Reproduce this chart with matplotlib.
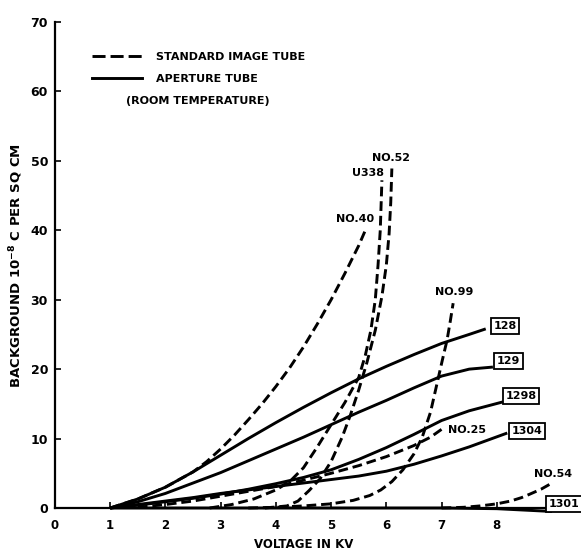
import matplotlib
matplotlib.use("Agg")
import matplotlib.pyplot as plt
from matplotlib.lines import Line2D

plt.rcParams['font.family'] = ['DejaVu Sans']
plt.rcParams['font.weight'] = 'bold'
plt.rcParams['mathtext.default'] = 'bf'
plt.rcParams['lines.scale_dashes'] = False

# ---- data (voltage in kV, background in 1e-8 C per sq cm) ----
x_128 = [1.0, 1.5, 2.0, 2.5, 3.0, 3.5, 4.0, 4.5, 5.0, 5.5, 6.0, 6.5, 7.0, 7.5, 7.8]
y_128 = [0, 1.3, 3.0, 5.2, 7.6, 10.0, 12.3, 14.5, 16.6, 18.6, 20.4, 22.1, 23.7, 25.0, 25.8]

x_129 = [1.0, 1.5, 2.0, 2.5, 3.0, 3.5, 4.0, 4.5, 5.0, 5.5, 6.0, 6.5, 7.0, 7.5, 7.93]
y_129 = [0, 0.9, 2.1, 3.6, 5.1, 6.8, 8.5, 10.2, 12.0, 13.8, 15.5, 17.3, 19.0, 20.0, 20.3]

x_1298 = [1.0, 1.5, 2.0, 2.5, 3.0, 3.5, 4.0, 4.5, 5.0, 5.5, 6.0, 6.5, 7.0, 7.5, 8.12]
y_1298 = [0, 0.4, 0.9, 1.4, 2.0, 2.7, 3.5, 4.4, 5.5, 7.0, 8.7, 10.6, 12.6, 14.0, 15.3]

x_1304 = [1.0, 1.5, 2.0, 2.5, 3.0, 3.5, 4.0, 4.5, 5.0, 5.5, 6.0, 6.5, 7.0, 7.5, 8.19]
y_1304 = [0, 0.5, 1.0, 1.5, 2.1, 2.6, 3.1, 3.6, 4.1, 4.6, 5.3, 6.3, 7.5, 8.8, 10.8]

x_1301 = [1.0, 3.0, 5.0, 7.0, 8.0, 8.5, 9.0]
y_1301 = [0, 0, 0, 0, -0.1, -0.3, -0.5]

x_no40 = [1.0, 1.5, 2.0, 2.25, 2.5, 2.75, 3.0, 3.25, 3.5, 3.75, 4.0, 4.25, 4.5,
          4.75, 5.0, 5.25, 5.5, 5.62]
y_no40 = [0, 1.3, 3.0, 4.1, 5.2, 6.7, 8.5, 10.5, 12.7, 15.0, 17.5, 20.2, 23.2,
          26.5, 30.0, 33.8, 37.8, 40.0]

x_u338 = [2.8, 3.2, 3.6, 4.0, 4.25, 4.5, 4.75, 5.0, 5.25, 5.5, 5.62, 5.72, 5.8,
          5.85, 5.89, 5.92]
y_u338 = [0, 0.5, 1.3, 2.6, 3.8, 5.8, 8.8, 12.0, 15.2, 18.8, 22.0, 25.6, 30.0,
          35.0, 40.0, 47.2]

x_no52 = [3.8, 4.2, 4.4, 4.6, 4.8, 5.0, 5.2, 5.35, 5.5, 5.65, 5.8, 5.92, 6.0,
          6.05, 6.08, 6.1]
y_no52 = [0, 0.3, 1.0, 2.5, 4.2, 6.7, 10.2, 13.4, 17.0, 21.0, 25.6, 30.5, 35.0,
          39.5, 44.0, 48.9]

x_no99 = [3.5, 4.0, 4.5, 5.0, 5.4, 5.7, 5.9, 6.1, 6.3, 6.5, 6.65, 6.8, 6.92,
          7.02, 7.1, 7.16, 7.21]
y_no99 = [0, 0.1, 0.3, 0.6, 1.1, 1.8, 2.6, 3.8, 5.5, 7.8, 10.2, 13.8, 18.0,
          21.5, 24.2, 27.0, 29.5]

x_no25 = [1.5, 2.0, 2.5, 3.0, 3.5, 4.0, 4.5, 5.0, 5.5, 6.0, 6.5, 6.8, 7.03]
y_no25 = [0.1, 0.5, 1.0, 1.7, 2.4, 3.1, 4.0, 5.0, 6.1, 7.4, 9.0, 10.2, 11.5]

x_no54 = [7.0, 7.4, 7.7, 8.0, 8.25, 8.45, 8.6, 8.8, 9.0]
y_no54 = [0, 0.1, 0.3, 0.6, 1.0, 1.5, 2.0, 2.7, 3.6]

x_ticks = [0, 1, 2, 3, 4, 5, 6, 7, 8]
y_ticks = [0, 10, 20, 30, 40, 50, 60, 70]

legend_labels = ["STANDARD IMAGE TUBE", "APERTURE TUBE", "(ROOM TEMPERATURE)"]

# ---- figure ----
fig = plt.figure(figsize=(5.81, 5.5), dpi=100)
ax = fig.add_axes([55 / 581, 42 / 550, 497 / 581, 486 / 550])
ax.set_xlim(0, 9)
ax.set_ylim(0, 70)

LW = 2.1
DASH = (7, 3.5)

solid = [(x_128, y_128), (x_129, y_129), (x_1298, y_1298), (x_1304, y_1304), (x_1301, y_1301)]
dashed = [(x_no40, y_no40), (x_u338, y_u338), (x_no52, y_no52), (x_no99, y_no99),
          (x_no25, y_no25), (x_no54, y_no54)]

for xs, ys in solid:
    ax.plot(xs, ys, color='black', lw=LW, solid_capstyle='butt', solid_joinstyle='round',
            clip_on=False)
for xs, ys in dashed:
    ax.plot(xs, ys, color='black', lw=LW, linestyle=(0, DASH), dash_capstyle='butt',
            dash_joinstyle='round', clip_on=False)

# curve labels
fs = 8
plain = dict(fontsize=fs, fontweight='bold', ha='center', va='center')
ax.text(6.09, 50.4, "NO.52", **plain)
ax.text(5.67, 48.3, "U338", **plain)
ax.text(5.43, 41.6, "NO.40", **plain)
ax.text(7.23, 31.1, "NO.99", **plain)
ax.text(7.12, 11.2, "NO.25", fontsize=fs, fontweight='bold', ha='left', va='center')
ax.text(9.02, 4.9, "NO.54", **plain)

boxed = dict(fontsize=fs, fontweight='bold', ha='center', va='center',
             bbox=dict(boxstyle='square,pad=0.25', fc='white', ec='black', lw=1.3))
ax.text(8.15, 26.2, "128", **boxed)
ax.text(8.21, 21.2, "129", **boxed)
ax.text(8.44, 16.1, "1298", **boxed)
ax.text(8.55, 11.1, "1304", **boxed)
ax.text(9.22, 0.6, "1301", clip_on=False, **boxed)

# legend (drawn manually)
ax.add_line(Line2D([0.075, 0.176], [0.931, 0.931], transform=ax.transAxes, color='black',
                   lw=LW, linestyle=(0, (9.4, 3.6))))
ax.add_line(Line2D([0.075, 0.176], [0.885, 0.885], transform=ax.transAxes, color='black', lw=LW))
ax.text(0.203, 0.929, legend_labels[0], transform=ax.transAxes, fontsize=fs,
        fontweight='bold', va='center', ha='left')
ax.text(0.203, 0.883, legend_labels[1], transform=ax.transAxes, fontsize=fs,
        fontweight='bold', va='center', ha='left')
ax.text(0.143, 0.838, legend_labels[2], transform=ax.transAxes, fontsize=fs,
        fontweight='bold', va='center', ha='left')

# axes styling
for s in ['top', 'right']:
    ax.spines[s].set_visible(False)
for s in ['left', 'bottom']:
    ax.spines[s].set_linewidth(1.6)
ax.set_xticks(x_ticks)
ax.set_yticks(y_ticks)
ax.set_xticklabels([str(v) for v in x_ticks], fontsize=fs + 0.5, fontweight='bold')
ax.set_yticklabels([str(v) for v in y_ticks], fontsize=fs + 1, fontweight='bold')
ax.tick_params(axis='both', direction='in', length=4, width=1.2)
ax.tick_params(axis='x', pad=8)
ax.tick_params(axis='y', pad=5)

ax.set_xlabel("VOLTAGE IN KV", fontsize=8.5, fontweight='bold', labelpad=4)
ax.set_ylabel(r"BACKGROUND 10$^{-8}$ C PER SQ CM", fontsize=9.5, fontweight='bold', labelpad=4)

fig.savefig("out.png", dpi=100)
